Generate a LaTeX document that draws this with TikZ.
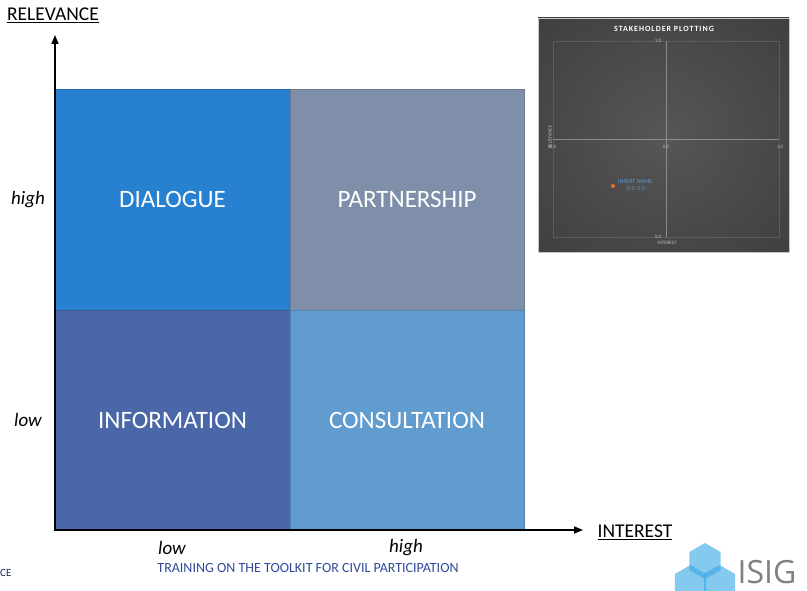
\documentclass[tikz,border=0pt]{standalone}
\usepackage{fontspec}
\setmainfont{Carlito}
\newfontfamily\logofont{Open Sans}
\newfontfamily\titlefont[LetterSpace=12]{Carlito}
\usetikzlibrary{arrows.meta,shapes.geometric}
\definecolor{dialcol}{RGB}{39,128,208}
\definecolor{partcol}{RGB}{127,143,169}
\definecolor{infocol}{RGB}{74,103,168}
\definecolor{conscol}{RGB}{97,156,206}
\definecolor{navy}{RGB}{46,74,154}
\definecolor{hexcol}{RGB}{56,168,228}
\definecolor{ptcol}{RGB}{237,125,49}
\definecolor{lblcol}{RGB}{91,155,213}
\definecolor{plotin}{RGB}{86,86,86}
\definecolor{plotout}{RGB}{40,40,40}
\definecolor{plotedge}{RGB}{92,92,92}
\definecolor{plotline}{RGB}{140,140,140}
\definecolor{isigcol}{RGB}{128,128,128}
\pgfdeclareradialshading{plotglow}{\pgfpoint{0bp}{0bp}}{color(0bp)=(plotin); color(72bp)=(plotout)}

\begin{document}
\begin{tikzpicture}[x=1pt,y=1pt,node distance=234.5pt,
  quad/.style={rectangle,minimum width=234.5pt,minimum height=220.5pt,inner sep=0pt,outer sep=0pt,text=white,font=\fontsize{25}{29}\selectfont},
  tick/.style={font=\fontsize{19}{22}\selectfont\itshape},
  axlabel/.style={font=\fontsize{19.5}{22}\selectfont},
  tiny/.style={text=white!75!black,font=\fontsize{5}{6}\selectfont,inner sep=0pt},
  hexa/.style={regular polygon,regular polygon sides=6,shape border rotate=30,minimum size=36pt,inner sep=0pt,fill=hexcol,fill opacity=0.62}]
\useasboundingbox (0,0) rectangle (807,590);

% quadrants
\node[quad,fill=dialcol,draw=dialcol!85!black] (dial) at (172.5,390.5) {DIALOGUE};
\node[quad,fill=partcol,draw=partcol!85!black,right of=dial] (part) {PARTNERSHIP};
\node[quad,fill=infocol,draw=infocol!85!black,below of=dial,node distance=220.5pt] (info) {INFORMATION};
\node[quad,fill=conscol,draw=conscol!85!black,right of=info] (cons) {CONSULTATION};

% axes
\coordinate (o) at (55,60);
\coordinate (ytip) at (55,555);
\coordinate (xtip) at (583,60);
\draw[line width=1.6pt,{Triangle[length=9pt,width=7pt]}-{Triangle[length=9pt,width=7pt]}] (ytip) -- (o) -- (xtip);
\node[axlabel] (rel) at (53,575) {\underline{RELEVANCE}};
\node[axlabel] (int) at (635,58) {\underline{INTEREST}};
\node[tick] (yhigh) at (28,390.5) {high};
\node[tick] (ylow) at (28,170) {low};
\node[tick] (xlow) at (172,42) {low};
\node[tick] (xhigh) at (406,42) {high};

% footer
\node[text=navy,font=\fontsize{14}{16}\selectfont] (train) at (308,22) {TRAINING ON THE TOOLKIT FOR CIVIL PARTICIPATION};
\node[text=navy!60!black,font=\fontsize{11}{12}\selectfont,anchor=west,inner sep=0pt] (ce) at (0,17) {CE};
\begin{scope}
\clip (0,0) rectangle (807,590);
\node[hexa] (hexl) at (690.5,7) {};
\node[hexa] (hexr) at (719.5,7) {};
\node[hexa] (hext) at (705,29) {};
\end{scope}
\node[text=isigcol,font=\logofont\fontsize{32}{34}\selectfont,inner sep=0pt] (isig) at (767,18) {ISIG};

% stakeholder plotting inset
\shade[shading=plotglow] (538,338) rectangle (789,572);
\draw[gray!45,line width=0.8pt] (538,338) rectangle (789,572);
\draw[plotedge,line width=0.4pt] (553,353) rectangle (779,549);
\coordinate (ctop) at (666,549);
\coordinate (cbot) at (666,353);
\coordinate (cleft) at (553,451);
\coordinate (cright) at (779,451);
\draw[plotline,line width=0.5pt] (ctop) -- (cbot) (cleft) -- (cright);
\node[text=white,font=\titlefont\bfseries\fontsize{8}{9}\selectfont] (ptitle) at (664,561) {STAKEHOLDER PLOTTING};
\node[tiny] at (658,549) {1,0};
\node[tiny] at (658,353) {0,0};
\node[tiny] at (666,443) {0,5};
\node[tiny] at (553,443) {0,0};
\node[tiny] at (780,443) {1,0};
\node[tiny] at (667,347) {INTEREST};
\node[tiny,rotate=90] at (550,453) {RELEVANCE};
\node[circle,fill=ptcol,draw=ptcol!70!black,line width=0.3pt,minimum size=4pt,inner sep=0pt] (pt) at (613,404) {};
\node[text=lblcol,font=\fontsize{6}{7}\selectfont,align=center,inner sep=0pt] (ptlbl) at (636,405) {INSERT NAME;\\0,5; 0,5};
\end{tikzpicture}
\end{document}
